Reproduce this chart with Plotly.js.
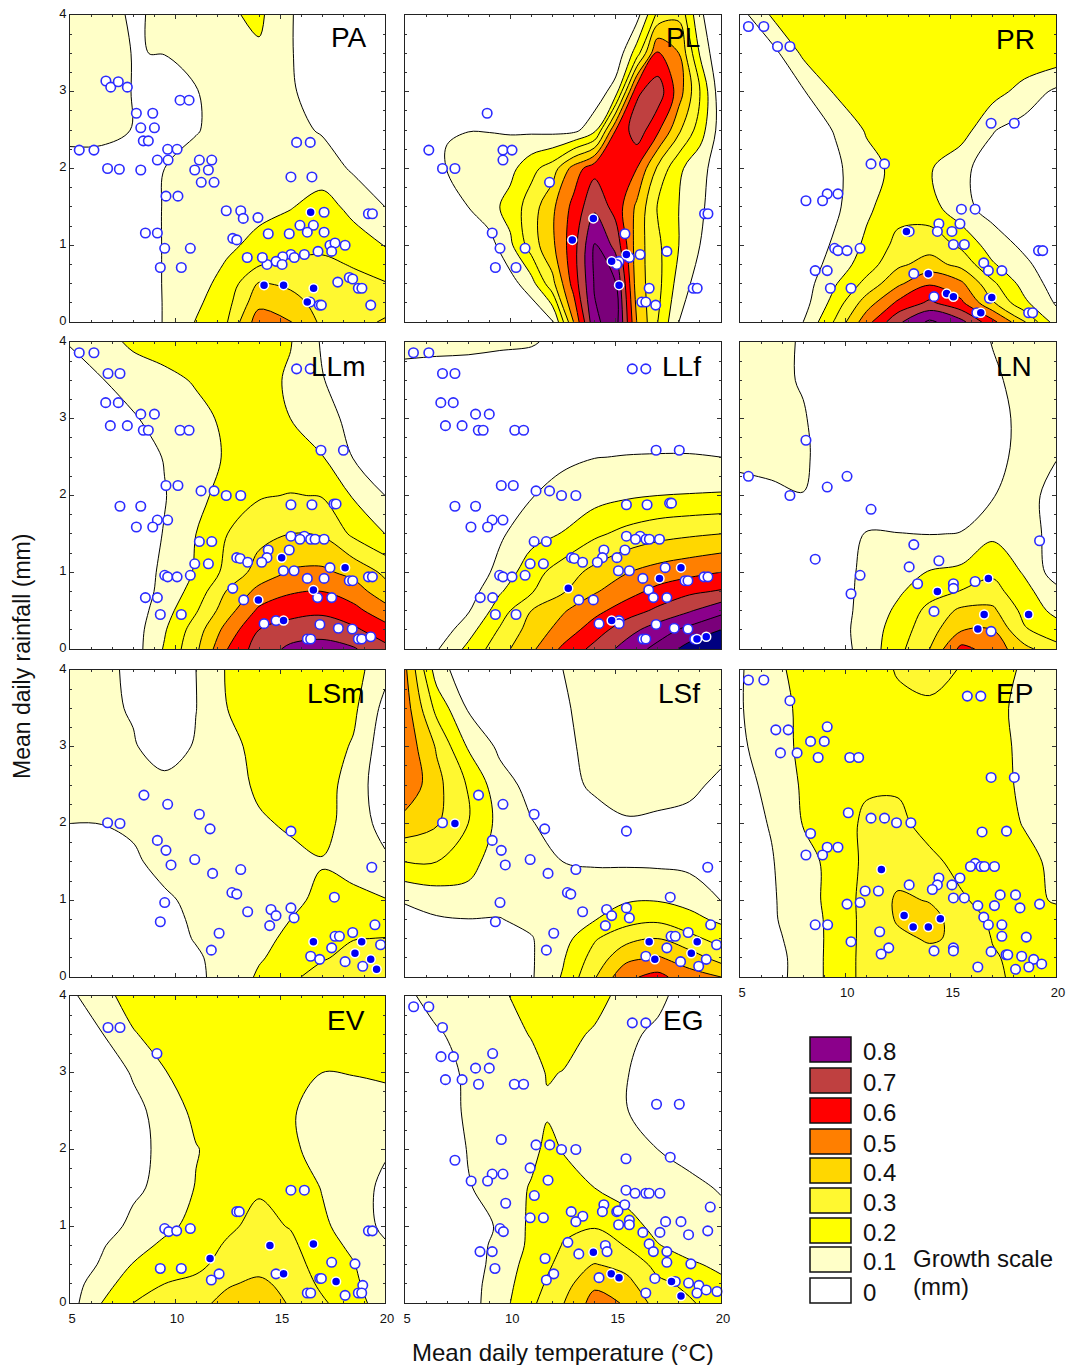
<!DOCTYPE html>
<html>
<head>
<meta charset="utf-8">
<script src="https://cdn.plot.ly/plotly-3.0.1.min.js"></script>
<style>html,body{margin:0;padding:0;background:#fff}</style>
</head>
<body>
<div id="chart" style="width:1068px;height:1365px"></div>
<script>
// ---- grid axes (°C, mm) ----
const tempGrid = [5,6.5,8,9.5,11,12.5,14,15.5,17,18.5,20];
const rainGrid = [0,0.25,0.5,0.75,1,1.5,2,2.5,3,3.5,4];
const tempFine = [5,6,7,8,9,10,11,12,13,14,15,16,17,18,19,20];
const rainHalf = [0,0.5,1,1.5,2,2.5,3,3.5,4];
const tempEG = [5,6.5,8,9.5,11,11.75,12.5,14,15.5,17,18.5,20];

// ---- growth values, rows from rainfall 0 upward ----
const zPA = [
[.02,.03,.04,.105,.205,.3,.56,.505,.38,.34,.42],
[.02,.03,.04,.105,.18,.27,.47,.44,.36,.33,.33],
[.02,.03,.05,.105,.16,.24,.41,.38,.38,.34,.305],
[.02,.03,.05,.105,.14,.21,.29,.32,.33,.29,.26],
[.02,.03,.05,.105,.13,.18,.23,.26,.27,.24,.195],
[.03,.03,.05,.105,.13,.15,.17,.195,.235,.175,.10],
[.06,.07,.07,.10,.13,.14,.15,.17,.155,.085,.05],
[.13,.12,.098,.06,.095,.13,.15,.13,.09,.05,.03],
[.14,.13,.098,.05,.095,.14,.17,.11,.06,.03,.02],
[.14,.13,.098,.102,.14,.16,.185,.105,.05,.02,.02],
[.15,.13,.09,.115,.15,.185,.22,.105,.05,.02,.02]];
const zPL = [
[0,0,0,0,0,0,0,.08,.5,.88,.95,.5,.3,.1,.03,0],
[0,0,0,0,0,.06,.16,.37,.64,.91,.905,.45,.33,.16,.05,0],
[0,0,0,0,.06,.18,.35,.48,.66,.905,.77,.45,.32,.2,.1,.02],
[0,0,0,.1,.16,.24,.35,.48,.63,.78,.66,.48,.29,.2,.12,.03],
[0,.02,.105,.12,.13,.17,.27,.35,.54,.67,.66,.6,.38,.22,.13,.05],
[0,.02,.097,.099,.098,.09,.08,.07,.07,.17,.6,.76,.62,.42,.25,.05],
[0,0,0,0,0,0,0,0,0,.03,.15,.68,.76,.55,.3,.03],
[0,0,0,0,0,0,0,0,0,0,.02,.25,.61,.5,.19,0],
[0,0,0,0,0,0,0,0,0,0,0,.06,.33,.38,.12,0]];
const zPR = [
[0,.02,.1,.31,.56,.78,.92,.83,.63,.41,.15],
[.01,.02,.06,.24,.45,.62,.72,.62,.41,.22,.09],
[.01,.02,.05,.19,.33,.48,.59,.52,.32,.16,.06],
[.01,.02,.04,.14,.25,.38,.44,.37,.21,.12,.04],
[.01,.01,.03,.115,.22,.33,.36,.28,.15,.08,.03],
[.01,.02,.03,.08,.18,.26,.24,.13,.06,.04,.03],
[.01,.02,.04,.08,.16,.23,.21,.12,.06,.05,.04],
[.01,.02,.05,.105,.21,.26,.27,.25,.105,.06,.05],
[.02,.05,.09,.21,.26,.28,.28,.27,.24,.16,.08],
[.05,.06,.22,.27,.28,.28,.28,.28,.28,.28,.27],
[.06,.21,.27,.28,.28,.28,.28,.28,.28,.28,.28]];
const zLLm = [
[.01,.02,.05,.21,.38,.6,.75,.82,.84,.81,.73],
[.01,.02,.05,.19,.35,.54,.70,.75,.76,.72,.64],
[.01,.02,.04,.16,.29,.46,.62,.66,.68,.63,.54],
[.01,.02,.03,.135,.24,.41,.53,.59,.6,.55,.44],
[.01,.02,.03,.125,.21,.33,.44,.51,.52,.47,.38],
[.01,.02,.04,.105,.2,.3,.37,.4,.39,.28,.2],
[.01,.02,.05,.095,.17,.24,.29,.305,.295,.19,.10],
[.01,.02,.05,.105,.16,.21,.24,.23,.205,.095,.05],
[.01,.03,.09,.14,.17,.22,.23,.2,.14,.07,.04],
[.03,.095,.14,.17,.21,.24,.24,.185,.105,.05,.03],
[.11,.16,.22,.25,.26,.27,.26,.205,.09,.04,.03]];
const zLLf = [
[0,.09,.225,.36,.48,.62,.73,.84,.93,1.04,1.12],
[0,.03,.16,.31,.44,.54,.65,.76,.85,.93,1.0],
[0,.01,.09,.25,.40,.49,.57,.65,.72,.79,.87],
[0,0,.05,.19,.29,.39,.49,.56,.63,.68,.71],
[0,0,.03,.13,.26,.35,.43,.495,.54,.57,.6],
[0,0,.02,.085,.16,.205,.28,.33,.365,.385,.4],
[0,0,0,.05,.095,.135,.16,.185,.2,.205,.21],
[0,0,0,0,.04,.08,.098,.103,.105,.105,.10],
[.01,.02,.02,.02,.03,.04,.05,.05,.05,.05,.05],
[.05,.05,.04,.03,.03,.03,.03,.03,.03,.03,.03],
[.14,.13,.13,.12,.11,.07,.03,.03,.03,.03,.03]];
const zLN = [
[.01,.01,.02,.05,.14,.27,.4,.63,.56,.43,.33],
[.01,.01,.02,.06,.14,.25,.36,.49,.5,.31,.25],
[.01,.01,.02,.06,.13,.22,.33,.42,.42,.27,.17],
[.01,.01,.02,.06,.125,.185,.26,.305,.34,.23,.13],
[.01,.01,.02,.06,.12,.17,.205,.225,.28,.19,.05],
[.02,.02,.03,.05,.105,.102,.098,.102,.18,.16,.05],
[.07,.08,.098,.05,.04,.04,.05,.07,.095,.14,.06],
[.12,.13,.12,.03,.03,.03,.03,.05,.07,.13,.105],
[.13,.13,.11,.03,.02,.02,.02,.03,.06,.13,.15],
[.13,.13,.09,.03,.02,.02,.02,.03,.08,.14,.15],
[.13,.13,.09,.03,.02,.02,.02,.03,.105,.15,.15]];
const zLSm = [
[.02,.03,.04,.06,.085,.13,.215,.28,.34,.38,.38],
[.02,.03,.04,.06,.09,.13,.19,.24,.29,.33,.36],
[.02,.03,.04,.07,.105,.15,.18,.215,.27,.297,.303],
[.02,.03,.05,.08,.11,.14,.17,.2,.24,.27,.25],
[.03,.04,.06,.09,.115,.14,.16,.18,.22,.235,.205],
[.05,.06,.09,.12,.14,.15,.16,.17,.195,.15,.12],
[.1,.101,.11,.14,.15,.16,.185,.215,.23,.16,.06],
[.12,.13,.14,.13,.13,.15,.22,.24,.24,.16,.03],
[.13,.13,.11,.05,.11,.17,.23,.25,.25,.19,.04],
[.13,.125,.09,.03,.098,.2,.25,.26,.25,.22,.07],
[.13,.12,.085,.03,.1,.21,.25,.26,.25,.24,.13]];
const zLSf = [
[.02,.03,.05,.06,.09,.21,.39,.58,.63,.54,.5],
[.02,.03,.05,.06,.09,.19,.34,.47,.51,.45,.36],
[.02,.03,.05,.07,.095,.16,.29,.37,.40,.33,.26],
[.08,.09,.098,.097,.12,.14,.195,.26,.28,.23,.18],
[.105,.14,.16,.125,.13,.125,.16,.19,.195,.17,.097],
[.3,.3,.24,.14,.11,.10,.09,.085,.08,.07,.05],
[.46,.41,.3,.17,.105,.06,.05,.09,.08,.06,.03],
[.58,.43,.29,.14,.07,.06,.12,.14,.14,.13,.07],
[.57,.39,.19,.08,.04,.07,.14,.14,.14,.14,.14],
[.55,.27,.09,.04,.03,.09,.13,.14,.14,.14,.14],
[.52,.15,.03,.03,.03,.10,.13,.14,.14,.14,.14]];
const zEP = [
[.04,.07,.13,.24,.33,.36,.38,.36,.32,.27,.26],
[.05,.07,.13,.24,.33,.37,.37,.36,.31,.27,.26],
[.05,.08,.135,.235,.33,.38,.41,.385,.295,.26,.25],
[.06,.09,.14,.235,.33,.41,.43,.36,.28,.25,.24],
[.06,.09,.15,.24,.33,.415,.395,.31,.27,.23,.19],
[.07,.095,.155,.24,.32,.355,.32,.275,.25,.225,.18],
[.07,.105,.205,.26,.315,.32,.27,.25,.24,.195,.15],
[.08,.115,.215,.26,.29,.29,.27,.26,.24,.18,.16],
[.09,.13,.23,.26,.27,.28,.28,.27,.23,.18,.16],
[.095,.14,.23,.26,.27,.285,.285,.28,.225,.175,.16],
[.09,.17,.235,.26,.27,.305,.33,.295,.23,.19,.16]];
const zEV = [
[.06,.2,.3,.32,.37,.43,.46,.39,.315,.24,.15],
[.05,.16,.25,.30,.32,.39,.42,.37,.28,.22,.13],
[.04,.11,.205,.25,.28,.33,.365,.34,.26,.205,.12],
[.03,.09,.16,.22,.26,.31,.35,.32,.24,.18,.11],
[.02,.05,.125,.175,.23,.285,.325,.295,.22,.15,.08],
[.01,.03,.08,.13,.205,.27,.29,.27,.195,.14,.08],
[.01,.02,.06,.13,.195,.24,.25,.22,.16,.13,.11],
[.01,.02,.07,.14,.225,.25,.26,.21,.16,.14,.13],
[.01,.03,.11,.195,.24,.26,.27,.25,.2,.205,.225],
[.03,.095,.19,.25,.27,.28,.28,.27,.24,.24,.25],
[.08,.16,.25,.27,.28,.28,.28,.28,.27,.26,.26]];
const zEG = [
[.01,.03,.06,.16,.28,.34,.395,.54,.49,.36,.31,.26],
[.01,.03,.06,.15,.26,.31,.36,.48,.43,.32,.28,.22],
[.01,.03,.05,.14,.24,.285,.33,.405,.37,.27,.215,.18],
[.01,.02,.05,.13,.22,.26,.305,.34,.295,.205,.16,.13],
[.01,.02,.04,.115,.22,.25,.28,.295,.24,.17,.14,.12],
[.01,.02,.095,.13,.21,.235,.24,.2,.16,.13,.115,.095],
[.01,.02,.105,.13,.17,.225,.195,.17,.14,.10,.08,.06],
[.01,.03,.12,.14,.155,.19,.165,.14,.103,.06,.05,.05],
[.01,.05,.12,.14,.17,.205,.198,.14,.103,.07,.05,.05],
[.03,.09,.13,.16,.205,.24,.225,.19,.12,.08,.05,.05],
[.08,.135,.15,.185,.235,.26,.26,.23,.17,.125,.05,.05]];

// ---- sampled sites [temperature, rainfall]: open = no significant growth, solid = significant ----
const openPA = [[6.71,3.14],[6.94,3.06],[7.3,3.13],[7.73,3.06],[10.24,2.89],[10.67,2.89],[8.16,2.72],[8.94,2.72],[8.37,2.53],[9.02,2.53],[8.49,2.36],[8.73,2.36],[5.44,2.24],[6.14,2.24],[9.65,2.25],[10.1,2.25],[9.16,2.11],[9.67,2.11],[6.79,2],[7.35,1.99],[8.37,1.98],[11.16,2.11],[11.75,2.11],[10.94,1.98],[11.59,1.98],[11.25,1.82],[11.86,1.82],[15.79,2.34],[16.44,2.34],[15.52,1.89],[16.52,1.89],[9.57,1.64],[10.14,1.64],[12.44,1.45],[13.13,1.45],[13.25,1.35],[13.95,1.36],[17.1,1.43],[19.21,1.41],[19.4,1.41],[8.59,1.16],[9.16,1.16],[9.51,.96],[10.73,.96],[9.3,.71],[10.3,.71],[12.75,1.09],[12.94,1.07],[14.44,1.15],[15.44,1.15],[15.95,1.26],[16.59,1.26],[16.3,1.17],[17.1,1.17],[17.38,1],[17.62,1.03],[18.1,1],[17.46,.92],[16.81,.92],[16.16,.88],[15.52,.88],[15.68,.84],[15.13,.85],[14.81,.79],[15.1,.75],[14.38,.75],[14.16,.84],[13.44,.84],[17.75,.52],[18.3,.58],[18.46,.56],[18.73,.44],[18.9,.44],[16.43,.26],[16.87,.22],[16.97,.22],[19.32,.22]];
const solidPA = [[16.46,1.43],[14.24,.48],[15.17,.48],[16.6,.44],[16.3,.26]];
const openPL = [[8.9,2.72],[6.13,2.24],[9.65,2.24],[10.08,2.24],[9.65,2.11],[6.78,2],[7.37,2],[11.86,1.82],[9.14,1.16],[9.51,.96],[10.7,.96],[9.29,.71],[10.27,.71],[15.44,1.15],[16.16,.88],[15.65,.84],[17.43,.92],[15.16,.79],[15.05,.75],[16.59,.44],[18.68,.44],[18.87,.44],[16.24,.26],[16.43,.26],[16.9,.22],[19.22,1.41],[19.38,1.41]];
const solidPL = [[13.94,1.35],[12.94,1.07],[15.51,.88],[14.81,.79],[15.16,.48]];
const openPR = [[5.4,3.85],[6.13,3.85],[6.78,3.59],[7.37,3.59],[16.92,2.59],[18.02,2.59],[11.22,2.06],[11.86,2.06],[9.14,1.67],[9.65,1.67],[8.92,1.58],[8.13,1.58],[15.51,1.47],[16.16,1.47],[14.44,1.28],[15.44,1.28],[14.37,1.18],[15.06,1.18],[15.13,1.01],[15.65,1.01],[9.49,.96],[9.65,.93],[10.08,.93],[10.7,.96],[8.57,.67],[9.14,.67],[9.29,.44],[10.27,.44],[16.57,.77],[16.79,.67],[17.43,.67],[13.25,.63],[14.21,.33],[16.84,.31],[16.24,.12],[18.7,.12],[18.89,.12],[19.17,.93],[19.37,.93],[13.03,1.18]];
const solidPR = [[12.9,1.18],[13.94,.63],[14.81,.37],[15.13,.33],[16.95,.32],[16.43,.12]];
const openLLm = [[5.44,3.86],[6.14,3.86],[6.81,3.59],[7.38,3.59],[15.79,3.65],[16.44,3.65],[6.7,3.21],[7.3,3.21],[8.37,3.06],[9.02,3.06],[6.92,2.91],[7.73,2.91],[8.49,2.85],[8.73,2.85],[10.24,2.85],[10.67,2.85],[16.95,2.59],[18.02,2.59],[9.57,2.13],[10.14,2.13],[11.24,2.06],[11.86,2.06],[12.44,2],[13.13,2],[7.38,1.86],[8.37,1.86],[15.52,1.88],[16.52,1.88],[17.57,1.89],[17.67,1.89],[9.16,1.68],[9.65,1.68],[8.16,1.59],[8.94,1.59],[11.16,1.4],[11.75,1.4],[15.52,1.47],[16.16,1.47],[15.95,1.43],[16.46,1.43],[16.67,1.43],[17.1,1.43],[14.44,1.29],[15.44,1.29],[14.38,1.19],[14.13,1.13],[12.94,1.19],[13.1,1.18],[13.46,1.13],[10.94,1.11],[11.59,1.11],[15.16,1.02],[15.67,1.02],[17.38,1.06],[9.51,.96],[9.65,.94],[10.1,.94],[10.73,.96],[16.3,.92],[17.1,.92],[18.3,.89],[18.46,.89],[19.21,.94],[19.4,.94],[12.75,.79],[16.79,.67],[17.46,.67],[13.27,.64],[8.59,.67],[9.16,.67],[9.3,.45],[10.3,.45],[14.24,.33],[14.81,.37],[16.9,.32],[17.78,.27],[18.44,.26],[16.3,.13],[16.46,.13],[18.73,.13],[18.89,.13],[19.32,.16]];
const solidLLm = [[15.08,1.19],[18.1,1.06],[16.59,.77],[13.97,.64],[15.17,.37]];
const openLLf = [[5.4,3.86],[6.13,3.86],[6.78,3.59],[7.37,3.59],[15.79,3.65],[16.43,3.65],[6.7,3.21],[7.29,3.21],[8.35,3.06],[9,3.06],[6.92,2.91],[7.71,2.91],[8.48,2.85],[8.71,2.85],[10.21,2.85],[10.63,2.85],[16.92,2.59],[18.02,2.59],[9.57,2.13],[10.14,2.13],[11.22,2.06],[11.86,2.06],[12.43,2],[13.11,2],[7.37,1.86],[8.35,1.86],[15.51,1.88],[16.49,1.88],[17.56,1.9],[17.65,1.9],[9.14,1.68],[9.65,1.68],[8.13,1.59],[8.92,1.59],[11.13,1.4],[11.71,1.4],[15.51,1.47],[16.16,1.47],[15.94,1.43],[16.44,1.43],[16.6,1.43],[17.08,1.43],[14.44,1.29],[15.44,1.29],[14.37,1.19],[15.06,1.19],[14.13,1.13],[12.9,1.19],[13.03,1.18],[13.43,1.13],[10.94,1.11],[11.57,1.11],[15.13,1.02],[15.65,1.02],[17.35,1.06],[9.49,.96],[9.65,.94],[10.08,.94],[10.7,.96],[16.29,.92],[18.29,.89],[18.43,.89],[19.19,.94],[19.38,.94],[16.57,.77],[16.79,.67],[17.43,.67],[13.25,.64],[13.94,.64],[8.57,.67],[9.16,.67],[9.29,.45],[10.27,.45],[14.21,.33],[15.16,.37],[15.16,.33],[16.92,.32],[17.78,.27],[18.43,.26],[16.29,.13],[16.43,.13],[18.75,.13]];
const solidLLf = [[18.1,1.06],[17.08,.92],[12.75,.79],[14.81,.37],[18.86,.13],[19.3,.16]];
const openLN = [[8.13,2.72],[5.4,2.25],[7.37,2],[9.14,2.11],[10.08,2.25],[11.22,1.82],[13.25,1.36],[8.57,1.17],[14.44,1.15],[13.03,1.07],[10.7,.96],[13.43,.85],[15.13,.85],[15.13,.79],[16.16,.88],[10.27,.72],[14.21,.49],[16.92,.23],[19.22,1.41]];
const solidLN = [[16.79,.92],[14.37,.75],[16.59,.45],[18.7,.45],[16.29,.26]];
const openLSm = [[8.52,2.37],[9.65,2.25],[11.16,2.12],[11.67,1.93],[6.79,2.01],[7.38,2],[9.16,1.78],[9.57,1.65],[9.81,1.46],[10.94,1.53],[11.79,1.35],[13.13,1.4],[15.52,1.9],[19.37,1.43],[12.71,1.1],[12.94,1.08],[17.59,1.04],[9.51,.97],[9.3,.72],[13.46,.85],[14.57,.88],[14.81,.8],[15.52,.9],[15.67,.77],[14.51,.67],[12.1,.57],[11.73,.35],[19.52,.68],[17.62,.53],[17.83,.53],[18.46,.58],[19.79,.42],[17.46,.38],[16.46,.27],[16.89,.23],[18.1,.2],[18.94,.14]];
const solidLSm = [[16.59,.46],[18.89,.46],[18.57,.31],[19.32,.23],[19.6,.1]];
const openLSf = [[8.49,2.37],[9.65,2.25],[11.13,2.12],[11.63,1.93],[6.78,2.01],[15.51,1.9],[9.14,1.78],[9.57,1.65],[9.76,1.46],[10.94,1.53],[11.79,1.35],[13.11,1.4],[19.37,1.43],[12.71,1.1],[12.87,1.08],[17.59,1.04],[9.51,.97],[9.29,.72],[13.43,.85],[14.57,.88],[14.81,.8],[15.51,.9],[15.65,.77],[14.51,.67],[12.06,.57],[11.71,.35],[19.51,.68],[17.63,.53],[17.83,.53],[18.44,.58],[19.79,.42],[17.43,.38],[16.43,.27],[18.08,.2],[19.3,.23],[18.94,.14]];
const solidLSf = [[7.37,2],[16.59,.46],[18.87,.46],[18.59,.31],[16.86,.23]];
const openEP = [[5.4,3.87],[6.13,3.87],[7.37,3.6],[15.79,3.66],[16.43,3.66],[6.7,3.22],[7.29,3.22],[9.14,3.26],[8.35,3.07],[9,3.07],[6.92,2.92],[7.71,2.92],[8.71,2.86],[10.21,2.86],[10.63,2.86],[16.92,2.6],[18.02,2.6],[10.14,2.14],[11.22,2.07],[11.86,2.07],[12.43,2.01],[13.11,2.01],[8.35,1.87],[16.49,1.89],[17.65,1.9],[9.14,1.69],[9.65,1.69],[8.13,1.59],[8.92,1.59],[16.16,1.48],[15.94,1.44],[16.44,1.44],[16.6,1.44],[17.08,1.44],[14.44,1.29],[15.44,1.29],[14.37,1.2],[15.06,1.2],[14.13,1.14],[13.03,1.2],[10.94,1.12],[11.57,1.12],[15.13,1.03],[15.65,1.03],[17.35,1.07],[18.08,1.07],[18.29,.9],[19.22,.95],[10.08,.95],[10.7,.97],[16.29,.93],[17.08,.93],[16.57,.78],[16.79,.68],[17.43,.68],[17.43,.53],[18.59,.52],[8.57,.68],[9.16,.68],[11.63,.59],[10.27,.46],[12.06,.38],[11.7,.3],[14.21,.34],[15.13,.38],[15.13,.34],[16.92,.33],[17.63,.29],[17.71,.29],[18.37,.27],[18.94,.23],[19.32,.17],[18.71,.13],[18.08,.1],[16.29,.13]];
const solidEP = [[11.71,1.4],[12.79,.8],[14.51,.76],[13.22,.65],[13.94,.65]];
const openEV = [[6.81,3.59],[7.38,3.59],[9.14,3.25],[15.52,1.47],[16.16,1.47],[12.94,1.19],[13.06,1.19],[9.51,.97],[9.7,.93],[10.08,.94],[10.73,.97],[19.21,.94],[19.4,.94],[9.3,.45],[10.3,.45],[17.46,.53],[18.57,.51],[12.1,.38],[11.73,.3],[14.81,.38],[16.89,.32],[16.97,.32],[18.94,.23],[16.3,.13],[16.46,.13],[18.1,.1],[18.73,.13],[18.89,.13]];
const solidEV = [[11.67,.58],[14.52,.75],[16.59,.77],[15.17,.38],[17.67,.28]];
const openEG = [[5.41,3.86],[6.13,3.86],[6.78,3.59],[15.79,3.65],[16.43,3.65],[6.71,3.21],[7.3,3.21],[9.16,3.25],[8.35,3.06],[9,3.06],[6.92,2.91],[7.71,2.91],[8.49,2.85],[10.19,2.85],[10.63,2.85],[16.94,2.59],[18.02,2.59],[9.57,2.13],[11.22,2.06],[11.87,2.06],[12.43,2],[13.11,2],[7.37,1.86],[15.49,1.88],[17.59,1.9],[10.94,1.76],[9.14,1.68],[9.65,1.68],[8.14,1.59],[8.92,1.59],[11.79,1.6],[15.49,1.47],[15.92,1.43],[16.43,1.43],[16.59,1.43],[17.1,1.43],[11.14,1.4],[9.78,1.3],[14.44,1.28],[15.43,1.28],[19.49,1.25],[14.37,1.19],[15.05,1.19],[15.11,1.2],[12.89,1.19],[13.44,1.13],[13.11,1.06],[10.94,1.11],[11.57,1.11],[15.65,1.08],[15.14,1.02],[15.65,1.02],[17.37,1.06],[18.1,1.06],[16.29,.92],[17.1,.92],[18.46,.89],[19.37,.94],[9.51,.97],[9.67,.93],[12.73,.79],[14.51,.75],[14.59,.67],[16.59,.77],[16.79,.67],[17.43,.67],[13.25,.64],[8.56,.67],[9.14,.67],[17.43,.53],[18.57,.51],[11.65,.58],[9.27,.45],[12.06,.38],[11.71,.3],[14.21,.33],[16.86,.32],[17.83,.28],[18.46,.26],[18.95,.23],[18.86,.13],[19.3,.17],[19.81,.15],[16.43,.13]];
const solidEG = [[13.94,.66],[14.79,.38],[15.16,.33],[17.65,.28],[18.1,.09]];

// ---- legend ----
const legendLabels = ['0.8','0.7','0.6','0.5','0.4','0.3','0.2','0.1','0'];
const bandColors = ['#FFFFFF','#FFFFC8','#FFFF00','#FFF830','#FFD700','#FF7F00','#FF0000','#BF4040','#8B008B','#7A007A','#000080'];

// ---- panels ----
const colsPx = [[70,385],[405,721],[740,1056]];
const rowsPx = [[15,322],[342,649],[670,977],[996,1303]];
const W = 1068, H = 1365;
const px = v => v / W, py = v => 1 - v / H;

const panels = [
 {name:'PA', r:0,c:0,z:zPA,open:openPA,solid:solidPA,lx:369,ly:37},
 {name:'PL', r:0,c:1,z:zPL,x:tempFine,y:rainHalf,open:openPL,solid:solidPL,lx:702,ly:37},
 {name:'PR', r:0,c:2,z:zPR,open:openPR,solid:solidPR,lx:1037,ly:39},
 {name:'LLm',r:1,c:0,z:zLLm,open:openLLm,solid:solidLLm,lx:367,ly:367},
 {name:'LLf',r:1,c:1,z:zLLf,open:openLLf,solid:solidLLf,lx:703,ly:367},
 {name:'LN', r:1,c:2,z:zLN,open:openLN,solid:solidLN,lx:1034,ly:367},
 {name:'LSm',r:2,c:0,z:zLSm,open:openLSm,solid:solidLSm,lx:367,ly:693},
 {name:'LSf',r:2,c:1,z:zLSf,open:openLSf,solid:solidLSf,lx:702,ly:693},
 {name:'EP', r:2,c:2,z:zEP,open:openEP,solid:solidEP,lx:1035,ly:693,xl:true},
 {name:'EV', r:3,c:0,z:zEV,open:openEV,solid:solidEV,lx:367,ly:1020,xl:true},
 {name:'EG', r:3,c:1,z:zEG,x:tempEG,open:openEG,solid:solidEG,lx:705,ly:1020,xl:true}
];

const colorscale = bandColors.map((c,i)=>[i/(bandColors.length-1),c]);
const traces = [];
const layout = {
  width:W,height:H,margin:{l:0,r:0,t:0,b:0},paper_bgcolor:'#fff',plot_bgcolor:'#fff',
  showlegend:false,font:{family:'Liberation Sans, Arial, sans-serif',color:'#111'},
  annotations:[],shapes:[]
};

panels.forEach((p,i)=>{
  const n = i+1, xk = n===1?'xaxis':'xaxis'+n, yk = n===1?'yaxis':'yaxis'+n;
  const xr = 'x'+(n===1?'':n), yr = 'y'+(n===1?'':n);
  const cx = colsPx[p.c], ry = rowsPx[p.r];
  layout[xk] = {domain:[px(cx[0]),px(cx[1])],anchor:yr,range:[5,20],tickvals:[5,10,15,20],
    showticklabels:!!p.xl,ticks:'inside',ticklen:4,tickwidth:1,tickcolor:'#333',
    ticklabelstandoff:3,ticklabelshift:2,
    minor:{dtick:1,ticks:'inside',ticklen:2,tickcolor:'#333',showgrid:false},
    showgrid:false,zeroline:false,showline:true,linecolor:'#222',linewidth:1,mirror:'ticks',
    tickfont:{size:13,color:'#111'}};
  layout[yk] = {domain:[py(ry[1]),py(ry[0])],anchor:xr,range:[0,4],tickvals:[0,1,2,3,4],
    showticklabels:p.c===0,ticks:'inside',ticklen:4,tickwidth:1,tickcolor:'#333',
    ticklabelshift:-2,
    minor:{dtick:.25,ticks:'inside',ticklen:2,tickcolor:'#333',showgrid:false},
    showgrid:false,zeroline:false,showline:true,linecolor:'#222',linewidth:1,mirror:'ticks',
    tickfont:{size:13,color:'#111'}};
  traces.push({type:'contour',x:p.x||tempGrid,y:p.y||rainGrid,z:p.z,xaxis:xr,yaxis:yr,
    autocontour:false,contours:{start:.1,end:1,size:.1,coloring:'fill',showlines:true},
    colorscale:colorscale,showscale:false,line:{color:'#000',width:1,smoothing:1},hoverinfo:'skip'});
  traces.push({type:'scatter',mode:'markers',x:p.open.map(d=>d[0]),y:p.open.map(d=>d[1]),xaxis:xr,yaxis:yr,
    cliponaxis:false,marker:{size:9.5,color:'#fff',line:{color:'#2B2BFF',width:1.6}},hoverinfo:'skip'});
  traces.push({type:'scatter',mode:'markers',x:p.solid.map(d=>d[0]),y:p.solid.map(d=>d[1]),xaxis:xr,yaxis:yr,
    cliponaxis:false,marker:{size:9,color:'#0000F5',line:{color:'#fff',width:1.5}},hoverinfo:'skip'});
  layout.annotations.push({xref:'paper',yref:'paper',x:px(p.lx),y:py(p.ly),text:p.name,showarrow:false,
    xanchor:'right',yanchor:'middle',font:{size:28,color:'#000'}});
});

// axis titles
layout.annotations.push({xref:'paper',yref:'paper',x:px(22),y:py(657),text:'Mean daily rainfall (mm)',textangle:-90,
  showarrow:false,xanchor:'center',yanchor:'middle',font:{size:23,color:'#111'}});
layout.annotations.push({xref:'paper',yref:'paper',x:px(563),y:py(1352),text:'Mean daily temperature (°C)',
  showarrow:false,xanchor:'center',yanchor:'middle',font:{size:24,color:'#111'}});

// legend boxes and labels
const legendTops = [1037,1068,1098,1129,1158,1188,1218,1247,1278];
legendLabels.forEach((lab,i)=>{
  const t = legendTops[i];
  layout.shapes.push({type:'rect',xref:'paper',yref:'paper',x0:px(810),x1:px(851),y0:py(t+25),y1:py(t),
    fillcolor:bandColors[legendLabels.length-1-i],line:{color:'#111',width:1.5}});
  layout.annotations.push({xref:'paper',yref:'paper',x:px(861),y:py(t+14),text:lab,showarrow:false,
    xanchor:'left',yanchor:'middle',font:{size:24,color:'#111'}});
});
layout.annotations.push({xref:'paper',yref:'paper',x:px(911),y:py(1258),text:'Growth scale',showarrow:false,
  xanchor:'left',yanchor:'middle',font:{size:24,color:'#111'}});
layout.annotations.push({xref:'paper',yref:'paper',x:px(911),y:py(1286),text:'(mm)',showarrow:false,
  xanchor:'left',yanchor:'middle',font:{size:24,color:'#111'}});

Plotly.newPlot('chart',traces,layout,{displayModeBar:false,staticPlot:true});
</script>
</body>
</html>
